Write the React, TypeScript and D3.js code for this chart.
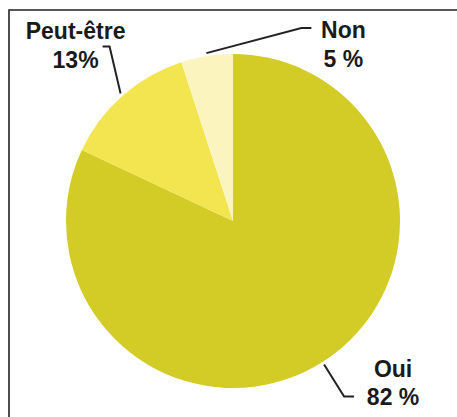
import React from "react";
import * as d3 from "d3";

const labels = ["Oui", "Peut-être", "Non"];
const values = [82, 13, 5];
const valueTexts = ["82 %", "13%", "5 %"];
const colors = ["#d3cb26", "#f2e54f", "#fbf4bf"];

// leader line elbows and label anchors, relative to the slice centroid on the rim
const leaders = [
  { elbow: [20, 32], end: [30, 32], text: [69, 12] },
  { elbow: [-11, -47], end: [-18, -47], text: [-45, -54] },
  { elbow: [95, -25], end: [105, -25], text: [137, -15] },
];

export default function App() {
  const width = 457;
  const height = 417;
  const cx = 233;
  const cy = 221;
  const r = 167;

  const pie = d3.pie<number>().sort(null)(values);
  const arc = d3.arc<d3.PieArcDatum<number>>().innerRadius(0).outerRadius(r);

  return (
    <svg
      width={width}
      height={height}
      style={{ position: "absolute", left: 0, top: 0, background: "#fff" }}
    >
      <path d={`M9,${height + 5}V10H${width + 5}`} fill="none" stroke="#222" strokeWidth={1.6} />
      <g transform={`translate(${cx},${cy})`}>
        {pie.map((d, i) => (
          <path key={labels[i]} d={arc(d) || ""} fill={colors[i]} />
        ))}
        {pie.map((d, i) => {
          const mid = (d.startAngle + d.endAngle) / 2;
          const [x0, y0] = d3.pointRadial(mid, r + 3);
          const l = leaders[i];
          const tx = x0 + l.text[0];
          const ty = y0 + l.text[1];
          return (
            <g key={"lab" + i}>
              <polyline
                points={`${x0},${y0} ${x0 + l.elbow[0]},${y0 + l.elbow[1]} ${x0 + l.end[0]},${y0 + l.end[1]}`}
                fill="none"
                stroke="#222"
                strokeWidth={2}
              />
              <text
                x={tx}
                y={ty}
                textAnchor="middle"
                fontFamily="Liberation Sans, Arial, sans-serif"
                fontWeight="bold"
                fontSize={23}
                fill="#1a1a1a"
              >
                <tspan x={tx}>{labels[i]}</tspan>
                <tspan x={tx} dy={28.5}>{valueTexts[i]}</tspan>
              </text>
            </g>
          );
        })}
      </g>
    </svg>
  );
}
